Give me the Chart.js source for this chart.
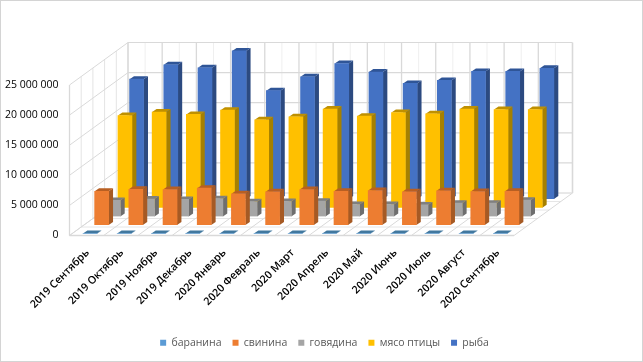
<!DOCTYPE html>
<html><head><meta charset="utf-8">
<style>html,body{margin:0;padding:0;background:#fff}#w{width:643px;height:362px;position:relative}</style>
<script src="https://cdn.jsdelivr.net/npm/chart.js@4"></script>
</head><body><div id="w"><canvas id="c" width="643" height="362"></canvas></div>
<script>
const categories = ['2019 Сентябрь','2019 Октябрь','2019 Ноябрь','2019 Декабрь','2020 Январь','2020 Февраль','2020 Март','2020 Апрель','2020 Май','2020 Июнь','2020 Июль','2020 Август','2020 Сентябрь'];
const seriesNames = ['баранина','свинина','говядина','мясо птицы','рыба'];
const baranina = [50000,50000,50000,50000,50000,50000,50000,50000,50000,50000,50000,50000,50000];
const svinina = [5630000,5960000,5910000,6130000,5190000,5520000,5910000,5630000,5740000,5520000,5690000,5570000,5630000];
const govyadina = [2650000,2870000,2820000,2920000,2420000,2480000,2530000,1980000,1980000,1910000,2200000,2200000,2700000];
const myaso = [15300000,15900000,15500000,16200000,14600000,15100000,16400000,15200000,15800000,15600000,16400000,16300000,16300000];
const ryba = [19900000,22300000,21800000,24600000,18000000,20300000,22500000,21100000,19200000,19700000,21200000,21200000,21700000];
const frontColors = ['#5B9BD5','#ED7D31','#A5A5A5','#FFC000','#4472C4'];
const sideColors = ['#41719C','#A65A24','#6E6E6E','#A68000','#2C4A80'];
const topColors = ['#41789F','#B85F22','#7F7F7F','#BF9000','#2F5597'];
const values = [baranina,svinina,govyadina,myaso,ryba];

const DEPTH_X = 58.5, DEPTH_Y = -42.5;       // floor depth vector
const STEP_X = 11.65, STEP_Y = -8.7;         // per series shift
const START_X = 3.4, START_Y = -1.7;         // first series shift
const SIDE_X = 4.4, SIDE_Y = -3;             // bar depth
const GRID = '#D9D9D9', GRID_LIGHT = '#EFEFEF';

function line(ctx,x1,y1,x2,y2,color,w){ctx.beginPath();ctx.moveTo(x1,y1);ctx.lineTo(x2,y2);ctx.strokeStyle=color;ctx.lineWidth=w||1;ctx.stroke();}
function poly(ctx,pts,color){ctx.beginPath();pts.forEach((p,i)=>i?ctx.lineTo(p[0],p[1]):ctx.moveTo(p[0],p[1]));ctx.closePath();ctx.fillStyle=color;ctx.fill();}

const walls = {
  id:'walls',
  afterLayout(chart){chart.scales.y.left=0;},
  beforeDatasetsDraw(chart){
    const {ctx,scales:{x,y},chartArea:a}=chart;
    const L=a.left,R=a.right,B=a.bottom,T=a.top,n=categories.length,cw=(R-L)/n;
    ctx.save();
    for(let i=0;i<n;i++){const px=L+DEPTH_X+(i+.5)*cw;line(ctx,px,B+DEPTH_Y,px,T+DEPTH_Y,GRID_LIGHT,1);}
    for(let i=0;i<=n;i++){const px=L+DEPTH_X+i*cw;line(ctx,px,B+DEPTH_Y,px,T+DEPTH_Y,GRID,i===n?1.6:1.3);}
    for(let k=1;k<=5;k++){const px=L+DEPTH_X*k/5,dy=DEPTH_Y*k/5;line(ctx,px,B+dy,px,T+dy,k===5?GRID:'#E4E4E4',1);}
    y.ticks.forEach(t=>{const py=y.getPixelForValue(t.value);
      line(ctx,L,py,L+DEPTH_X,py+DEPTH_Y,GRID,1);
      line(ctx,L+DEPTH_X,py+DEPTH_Y,R+DEPTH_X,py+DEPTH_Y,GRID,1.2);});
    for(let k=1;k<=5;k++){const dx=DEPTH_X*k/5,dy=DEPTH_Y*k/5;line(ctx,L+dx,B+dy,R+dx,B+dy,'#E6E6E6',1);}
    for(let i=0;i<=n;i++){const px=L+i*cw;line(ctx,px,B,px+DEPTH_X,B+DEPTH_Y,GRID,1);}
    line(ctx,L,T,L,B,GRID,1.3);
    line(ctx,L,B,R,B,GRID,1.3);
    ctx.strokeStyle='#D4D4D4';ctx.lineWidth=1;ctx.strokeRect(.5,.5,chart.width-1,chart.height-1);
    ctx.restore();
  },
  beforeDatasetDraw(chart,args){
    const {ctx}=chart,i=args.index,meta=args.meta;
    ctx.save();
    ctx.translate(START_X+STEP_X*i,START_Y+STEP_Y*i);
    meta.data.forEach(el=>{
      const p=el.getProps(['x','y','base','width'],true);
      const l=p.x-p.width/2,r=p.x+p.width/2,t=p.y,b=p.base;
      poly(ctx,[[r,t],[r+SIDE_X,t+SIDE_Y],[r+SIDE_X,b+SIDE_Y],[r,b]],sideColors[i]);
      poly(ctx,[[l,t],[l+SIDE_X,t+SIDE_Y],[r+SIDE_X,t+SIDE_Y],[r,t]],topColors[i]);
    });
  },
  afterDatasetDraw(chart){chart.ctx.restore();}
};

new Chart(document.getElementById('c'),{
  type:'bar',
  data:{labels:categories,datasets:values.map((v,i)=>({
    label:seriesNames[i],data:v,backgroundColor:frontColors[i],borderWidth:0,
    grouped:false,barThickness:14
  }))},
  plugins:[walls],
  options:{
    responsive:false,animation:false,
    layout:{padding:{top:85,left:6,right:0,bottom:4}},
    plugins:{
      tooltip:{enabled:false},
      legend:{position:'bottom',onClick:null,labels:{boxWidth:6,boxHeight:6,padding:11,color:'#595959',font:{family:'"Open Sans"',size:10.5}}}
    },
    scales:{
      x:{offset:true,grid:{display:false},border:{display:false},
        ticks:{autoSkip:false,minRotation:45,maxRotation:45,color:'#000',padding:3,labelOffset:1,font:{family:'"Open Sans"',size:10.7,weight:'600'}},
        afterFit(s){s.height=91;}},
      y:{min:0,max:25000000,grid:{display:false},border:{display:false},
        ticks:{stepSize:5000000,color:'#000',padding:3,font:{family:'"Open Sans"',size:10.5,weight:'500'},
          callback:v=>String(v).replace(/\B(?=(\d{3})+$)/g,' ')},
        afterFit(s){s.width=63.5;}},
      pad:{position:'right',display:true,grid:{display:false},border:{display:false},ticks:{display:false},
        afterFit(s){s.width=129;}}
    }
  }
});
</script></body></html>
